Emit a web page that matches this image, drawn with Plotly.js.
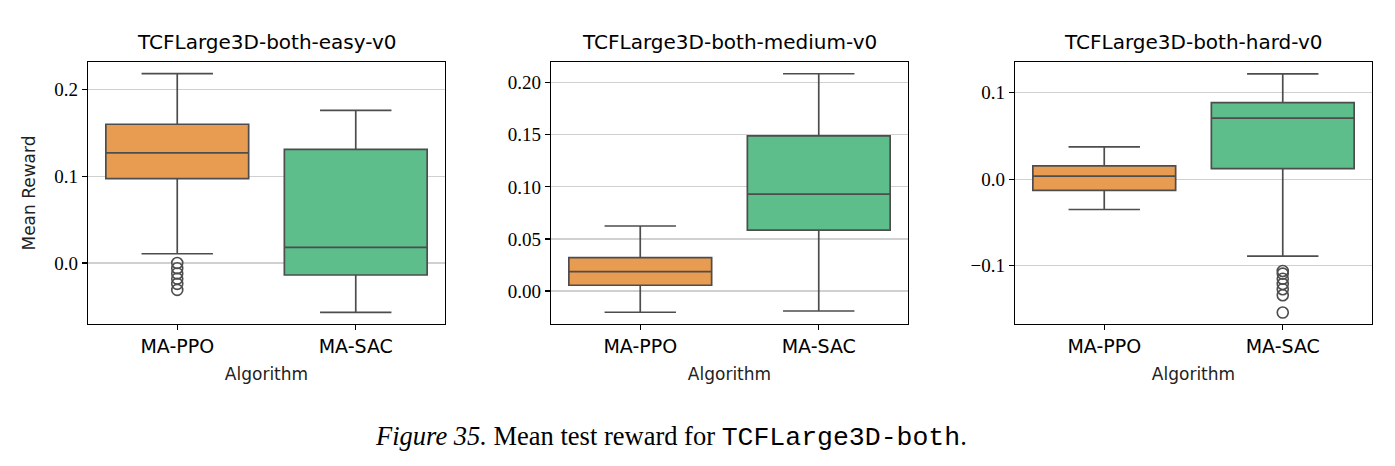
<!DOCTYPE html>
<html>
<head>
<meta charset="utf-8">
<script src="https://cdn.plot.ly/plotly-3.0.1.min.js"></script>
<style>html,body{margin:0;padding:0;background:#fff;}</style>
</head>
<body>
<div id="chart" style="width:1395px;height:466px;"></div>
<script>
// ---- data ----
const algorithms = ["MA-PPO", "MA-SAC"];
const envTitles = ["TCFLarge3D-both-easy-v0", "TCFLarge3D-both-medium-v0", "TCFLarge3D-both-hard-v0"];

// per environment: [MA-PPO, MA-SAC]
const lowerWhisker = [[0.0107, -0.0568], [-0.0204, -0.0192], [-0.0350, -0.0888]];
const q1Values     = [[0.0973, -0.0138], [0.0055, 0.0585], [-0.0130, 0.0123]];
const medianValues = [[0.1270, 0.0180], [0.0185, 0.0930], [0.0035, 0.0704]];
const q3Values     = [[0.1600, 0.1310], [0.0320, 0.1490], [0.0154, 0.0885]];
const upperWhisker = [[0.2184, 0.1760], [0.0624, 0.2086], [0.0373, 0.1215]];

// outliers per environment: [MA-PPO list, MA-SAC list]
const outliers = [
  [[0.000, -0.006, -0.012, -0.018, -0.024, -0.031], []],
  [[], []],
  [[], [-0.106, -0.109, -0.115, -0.121, -0.127, -0.134, -0.154]]
];

const yTickVals = [[0.0, 0.1, 0.2], [0.00, 0.05, 0.10, 0.15, 0.20], [-0.1, 0.0, 0.1]];
const yTickText = [["0.0", "0.1", "0.2"], ["0.00", "0.05", "0.10", "0.15", "0.20"], ["\u22120.1", "0.0", "0.1"]];
const yRanges = [[-0.0703, 0.2318], [-0.0317, 0.2199], [-0.1672, 0.1353]];

// ---- styling ----
const W = 1395, H = 466;
const boxColors = ["#E89C52", "#5DBD8B"];
const lineColor = "#4d4d4d";
const xPix = [[88, 445], [551, 908], [1015, 1372]];
const yPix = [62, 324];
const sans = "DejaVu Sans, sans-serif";
const serif = "Liberation Serif, DejaVu Serif, serif";

const traces = [];
const layout = {
  width: W, height: H,
  margin: {l: 0, r: 0, t: 0, b: 0, pad: 0},
  paper_bgcolor: "#ffffff",
  plot_bgcolor: "#ffffff",
  showlegend: false,
  boxmode: "overlay",
  annotations: []
};

for (let e = 0; e < 3; e++) {
  const xa = e === 0 ? "x" : "x" + (e + 1);
  const ya = e === 0 ? "y" : "y" + (e + 1);
  for (let a = 0; a < 2; a++) {
    traces.push({
      type: "box",
      x: [algorithms[a]],
      q1: [q1Values[e][a]],
      median: [medianValues[e][a]],
      q3: [q3Values[e][a]],
      lowerfence: [lowerWhisker[e][a]],
      upperfence: [upperWhisker[e][a]],
      boxpoints: false,
      width: 0.8,
      whiskerwidth: 0.5,
      fillcolor: boxColors[a],
      line: {color: lineColor, width: 1.7},
      xaxis: xa, yaxis: ya,
      hoverinfo: "skip"
    });
    if (outliers[e][a].length) {
      traces.push({
        type: "scatter", mode: "markers",
        x: outliers[e][a].map(() => algorithms[a]),
        y: outliers[e][a],
        marker: {symbol: "circle-open", size: 11, color: lineColor, line: {width: 1.6, color: lineColor}},
        xaxis: xa, yaxis: ya, hoverinfo: "skip"
      });
    }
  }
  const xKey = e === 0 ? "xaxis" : "xaxis" + (e + 1);
  const yKey = e === 0 ? "yaxis" : "yaxis" + (e + 1);
  layout[xKey] = {
    domain: [xPix[e][0] / W, xPix[e][1] / W],
    anchor: ya,
    type: "category",
    categoryorder: "array",
    categoryarray: algorithms,
    range: [-0.5, 1.5],
    showline: true, mirror: true, linecolor: "#000000", linewidth: 1.3,
    showgrid: false, zeroline: false,
    ticks: "outside", ticklen: 5, tickwidth: 1.2, tickcolor: "#000000",
    tickfont: {family: sans, size: 19, color: "#000000"},
    title: {text: "Algorithm", font: {family: sans, size: 17, color: "#222222"}, standoff: 12},
    automargin: false, fixedrange: true
  };
  layout[yKey] = {
    domain: [(H - yPix[1]) / H, (H - yPix[0]) / H],
    anchor: xa,
    range: yRanges[e],
    tickmode: "array",
    tickvals: yTickVals[e],
    ticktext: yTickText[e],
    showline: true, mirror: true, linecolor: "#000000", linewidth: 1.3,
    showgrid: true, gridcolor: "#d0d0d0", gridwidth: 1.2,
    zeroline: false,
    ticks: "outside", ticklen: 5, tickwidth: 1.2, tickcolor: "#000000",
    tickfont: {family: serif, size: 19, color: "#000000"},
    automargin: false, fixedrange: true
  };
  if (e === 0) {
    layout[yKey].title = {text: "Mean Reward", font: {family: sans, size: 17, color: "#222222"}, standoff: 14};
  }
  layout.annotations.push({
    text: envTitles[e],
    xref: "paper", yref: "paper",
    x: (xPix[e][0] + xPix[e][1]) / 2 / W, y: (H - 42) / H,
    xanchor: "center", yanchor: "middle",
    showarrow: false,
    font: {family: sans, size: 20, color: "#000000"}
  });
}

layout.annotations.push({
  text: '<i>Figure 35.</i> Mean test reward for <span style="font-family:Liberation Mono, monospace">TCFLarge3D-both</span>.',
  xref: "paper", yref: "paper",
  x: 671 / W, y: (H - 437) / H,
  xanchor: "center", yanchor: "middle",
  showarrow: false,
  font: {family: "Liberation Serif, serif", size: 26.5, color: "#000000"}
});

Plotly.newPlot("chart", traces, layout, {displayModeBar: false, staticPlot: true});
</script>
</body>
</html>
